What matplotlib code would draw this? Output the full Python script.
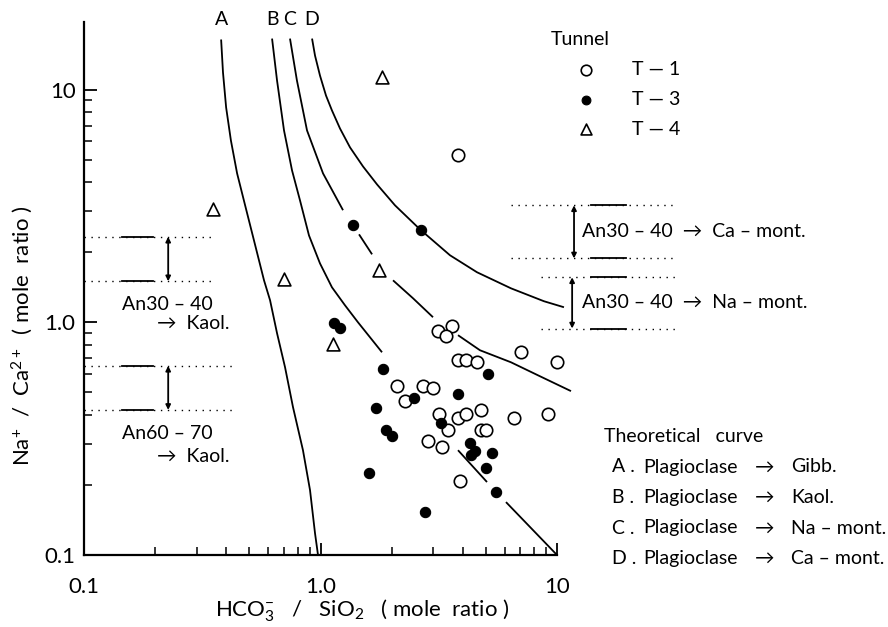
import numpy as np
import matplotlib
matplotlib.use("Agg")
import matplotlib.pyplot as plt

plt.rcParams['font.family'] = ['Lato', 'DejaVu Sans']
plt.rcParams['mathtext.fontset'] = 'custom'
plt.rcParams['mathtext.rm'] = 'Lato'
plt.rcParams['mathtext.it'] = 'Lato'
plt.rcParams['mathtext.bf'] = 'Lato'

nan = np.nan

# ---- data: Tunnel samples ----
t1_x = [3.81, 3.14, 3.59, 3.38, 3.83, 4.12, 4.60, 7.04, 9.97, 2.11, 2.72, 2.98, 2.28,
        3.17, 3.47, 3.83, 4.12, 4.79, 6.58, 9.16, 4.76, 5.00, 2.86, 3.25, 3.88]
t1_y = [5.21, 0.915, 0.961, 0.871, 0.687, 0.687, 0.673, 0.746, 0.673, 0.533, 0.531, 0.524, 0.458,
        0.404, 0.344, 0.386, 0.402, 0.419, 0.387, 0.404, 0.346, 0.346, 0.309, 0.290, 0.208]

t3_x = [1.14, 1.21, 1.83, 5.12, 3.83, 2.49, 1.71, 1.89, 2.01, 3.23, 4.29, 4.52, 4.34,
        5.30, 5.00, 5.51, 1.61, 2.77, 1.37, 2.66]
t3_y = [0.993, 0.949, 0.632, 0.602, 0.491, 0.475, 0.430, 0.344, 0.323, 0.370, 0.304, 0.281, 0.269,
        0.274, 0.237, 0.186, 0.226, 0.1525, 2.63, 2.50]

t4_x = [1.82, 0.352, 0.703, 1.77, 1.13]
t4_y = [11.3, 3.08, 1.53, 1.68, 0.805]

# ---- theoretical curves (NaN = gap in the drawn line) ----
curve_A_x = [0.380, 0.387, 0.399, 0.418, 0.444, 0.480, 0.518, 0.577, 0.612, 0.655, 0.708,
             0.765, 0.843, 0.903, 0.948, 0.976]
curve_A_y = [16.4, 11.83, 8.37, 6.04, 4.36, 3.18, 2.34, 1.514, 1.243, 0.897, 0.641,
             0.432, 0.282, 0.190, 0.124, 0.100]

curve_B_x = [0.624, 0.655, 0.701, 0.758, 0.819, 0.894, 0.995, 1.118, 1.269, 1.440, 1.619, 1.820,
             nan, 3.814, 5.058, nan, 6.085, 10.0]
curve_B_y = [16.55, 10.93, 6.67, 4.49, 3.34, 2.36, 1.79, 1.413, 1.183, 1.0, 0.862, 0.743,
             nan, 0.282, 0.2058, nan, 0.1688, 0.100]

curve_C_x = [0.743, 0.795, 0.877, 1.025, 1.245, nan, 1.455, 1.652, nan, 2.026, 2.461, 2.990,
             nan, 3.814, 4.725, 6.388, 8.475, 11.46]
curve_C_y = [16.55, 10.93, 6.67, 4.36, 3.03, nan, 2.386, 1.958, nan, 1.514, 1.268, 1.051,
             nan, 0.880, 0.758, 0.673, 0.586, 0.506]

curve_D_x = [0.921, 0.948, 0.995, 1.055, 1.118, 1.209, 1.333, 1.513, 1.734, 2.065, 2.634,
             3.528, 4.589, 6.388, 8.81, 10.70]
curve_D_y = [16.55, 13.99, 11.48, 9.42, 8.13, 6.80, 5.64, 4.67, 3.91, 3.18, 2.507,
             1.940, 1.640, 1.399, 1.231, 1.160]

curve_names = ['A', 'B', 'C', 'D']

# ---- Na/Ca ranges for plagioclase alteration ----
kaol_30_40 = [2.33, 1.5]
kaol_60_70 = [0.65, 0.42]
camont_30_40 = [3.18, 1.88]
namont_30_40 = [1.56, 0.94]

x_ticks = [0.1, 1.0, 10]
x_ticklabels = ['0.1', '1.0', '10']
y_ticks = [0.1, 1.0, 10]
y_ticklabels = ['0.1', '1.0', '10']

legend_labels = ['T — 1', 'T — 3', 'T — 4']
theory_letters = ['A .', 'B .', 'C .', 'D .']
theory_products = ['Gibb.', 'Kaol.', 'Na – mont.', 'Ca – mont.']

# ---------------- figure ----------------
W, H = 888, 627
fig = plt.figure(figsize=(W / 100, H / 100), dpi=100)
L, R, T, B = 84, 557, 22, 555
ax = fig.add_axes([L / W, 1 - B / H, (R - L) / W, (B - T) / H])
ax.set_xscale('log')
ax.set_yscale('log')
ax.set_xlim(0.1, 10)
ax.set_ylim(0.1, 19.5)

for s in ['top', 'right']:
    ax.spines[s].set_visible(False)
for s in ['left', 'bottom']:
    ax.spines[s].set_linewidth(1.6)

ax.set_xticks(x_ticks)
ax.set_xticklabels(x_ticklabels)
ax.set_yticks(y_ticks)
ax.set_yticklabels(y_ticklabels)
ax.tick_params(which='major', direction='in', length=9, width=1.3, labelsize=16)
ax.tick_params(which='minor', direction='in', length=6, width=1.1)
ax.tick_params(axis='x', which='major', pad=16)
ax.tick_params(axis='y', which='major', pad=6)

# curves
lw = 1.3
for cx, cy in [(curve_A_x, curve_A_y), (curve_B_x, curve_B_y),
               (curve_C_x, curve_C_y), (curve_D_x, curve_D_y)]:
    ax.plot(cx, cy, color='black', lw=lw, clip_on=False, solid_capstyle='butt')

# curve letters above the top ends
for name, cx in zip(curve_names, [curve_A_x, curve_B_x, curve_C_x, curve_D_x]):
    ax.annotate(name, xy=(cx[0], 19.5), xycoords='data', xytext=(0, 2), textcoords='offset points',
                ha='center', va='center', fontsize=14, annotation_clip=False)

# data points
h1 = ax.scatter(t1_x, t1_y, s=80, facecolors='white', edgecolors='black', linewidths=1.2,
                zorder=4, clip_on=False, label=legend_labels[0])
h3 = ax.scatter(t3_x, t3_y, s=55, facecolors='black', edgecolors='black', linewidths=0.8,
                zorder=5, clip_on=False, label=legend_labels[1])
h4 = ax.scatter(t4_x, t4_y, s=85, marker='^', facecolors='white', edgecolors='black',
                linewidths=1.2, zorder=4, clip_on=False, label=legend_labels[2])

leg = ax.legend(handles=[h1, h3, h4], title='Tunnel', loc='upper left',
                bbox_to_anchor=(551 / W, 1 - 31 / H), bbox_transform=fig.transFigure,
                frameon=False, fontsize=14, title_fontsize=14, alignment='left',
                handlelength=3.6, handletextpad=0.55, labelspacing=0.66,
                borderpad=0, borderaxespad=0, scatterpoints=1, markerscale=0.85)

# bracket helper (x in axes fraction, y in data)
ytr = ax.get_yaxis_transform()

def bracket(y_top, y_bot, x0_top, x0_bot, x1, sx0, sx1, xa):
    ax.plot([x0_top, x1], [y_top, y_top], transform=ytr, color='black', lw=1.0,
            ls=(0, (1, 4)), clip_on=False)
    ax.plot([x0_bot, x1], [y_bot, y_bot], transform=ytr, color='black', lw=1.0,
            ls=(0, (1, 4)), clip_on=False)
    ax.plot([sx0, sx1], [y_top, y_top], transform=ytr, color='black', lw=1.3, clip_on=False)
    ax.plot([sx0, sx1], [y_bot, y_bot], transform=ytr, color='black', lw=1.3, clip_on=False)
    ax.annotate('', xy=(xa, y_bot), xytext=(xa, y_top), xycoords=ytr, textcoords=ytr,
                arrowprops=dict(arrowstyle='<|-|>', lw=1.3, color='black',
                                mutation_scale=7, shrinkA=0, shrinkB=0),
                annotation_clip=False)

# left side (kaolinite)
bracket(kaol_30_40[0], kaol_30_40[1], 0.0, 0.0, 0.273, 0.080, 0.146, 0.178)
bracket(kaol_60_70[0], kaol_60_70[1], 0.0, 0.0, 0.315, 0.080, 0.146, 0.178)
ax.text(0.080, 1.19, 'An30 – 40', transform=ytr, fontsize=14, ha='left', va='center')
ax.text(0.154, 0.99, '→  Kaol.', transform=ytr, fontsize=14, ha='left', va='center')
ax.text(0.080, 0.334, 'An60 – 70', transform=ytr, fontsize=14, ha='left', va='center')
ax.text(0.154, 0.266, '→  Kaol.', transform=ytr, fontsize=14, ha='left', va='center')

# right side (montmorillonite)
bracket(camont_30_40[0], camont_30_40[1], 0.903, 0.903, 1.254, 1.072, 1.146, 1.036)
bracket(namont_30_40[0], namont_30_40[1], 0.966, 0.966, 1.254, 1.072, 1.146, 1.032)
ax.text(1.053, np.sqrt(camont_30_40[0] * camont_30_40[1]), 'An30 – 40  →  Ca – mont.',
        transform=ytr, fontsize=14, ha='left', va='center', clip_on=False)
ax.text(1.053, np.sqrt(namont_30_40[0] * namont_30_40[1]), 'An30 – 40  →  Na – mont.',
        transform=ytr, fontsize=14, ha='left', va='center', clip_on=False)

# theoretical curve key
fig.text(604 / W, 1 - 437 / H, 'Theoretical   curve', fontsize=14, ha='left', va='center')
for i, (let, prod) in enumerate(zip(theory_letters, theory_products)):
    yy = 1 - (467 + 30.5 * i) / H
    fig.text(612 / W, yy, let, fontsize=14, ha='left', va='center')
    fig.text(643 / W, yy, 'Plagioclase', fontsize=14, ha='left', va='center')
    fig.text(755 / W, yy, '→', fontsize=14, ha='left', va='center')
    fig.text(791 / W, yy, prod, fontsize=14, ha='left', va='center')

# axis labels
fig.text(362 / W, 1 - 611 / H, 'HCO$_3^{-}$   /   SiO$_2$   ( mole  ratio )', fontsize=16,
         ha='center', va='center')
fig.text(22 / W, 1 - 336 / H, 'Na$^{+}$  /  Ca$^{2+}$  ( mole  ratio )', fontsize=16,
         ha='center', va='center', rotation=90)

fig.savefig('out.png', dpi=100)
